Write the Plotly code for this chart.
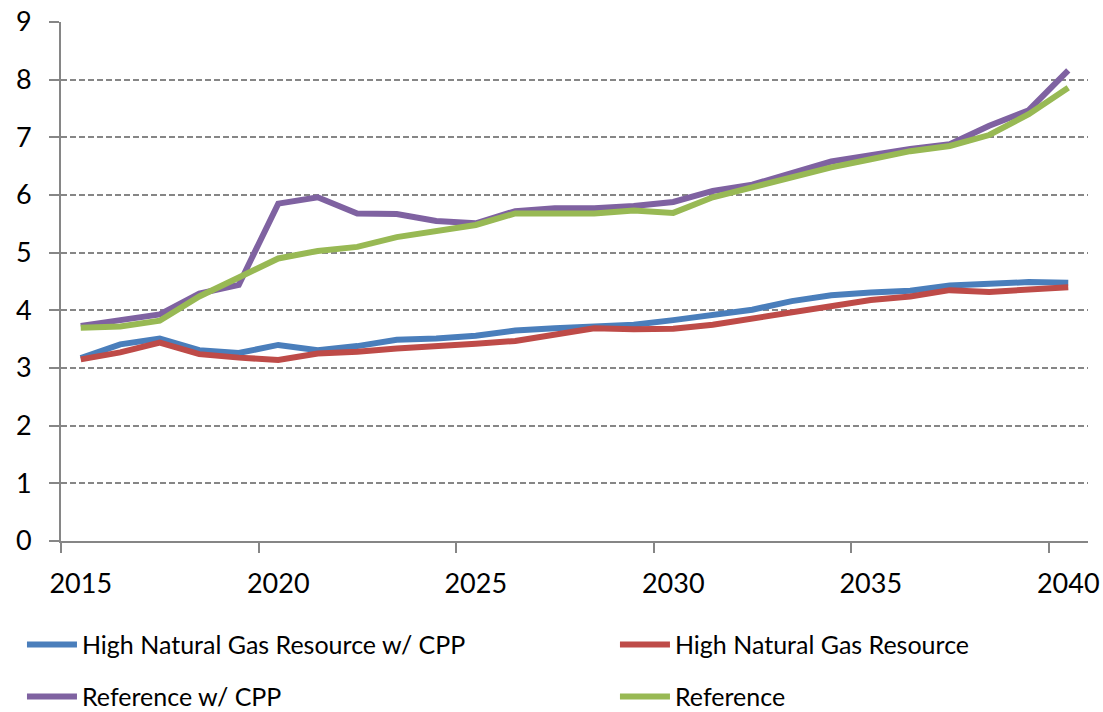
import plotly.graph_objects as go

years = [str(y) for y in range(2015, 2041)]

hng_cpp = [3.17, 3.41, 3.51, 3.31, 3.26, 3.40, 3.31, 3.38, 3.49, 3.51, 3.56, 3.65, 3.69,
           3.73, 3.75, 3.83, 3.93, 4.01, 4.16, 4.26, 4.31, 4.34, 4.43, 4.47, 4.49, 4.48]
hng = [3.15, 3.27, 3.44, 3.24, 3.18, 3.14, 3.25, 3.28, 3.34, 3.37, 3.42, 3.47, 3.57,
       3.69, 3.67, 3.68, 3.75, 3.86, 3.98, 4.08, 4.18, 4.24, 4.35, 4.32, 4.36, 4.40]
ref_cpp = [3.73, 3.84, 3.93, 4.29, 4.44, 5.85, 5.96, 5.68, 5.67, 5.55, 5.51, 5.72, 5.77,
           5.77, 5.81, 5.88, 6.07, 6.18, 6.38, 6.58, 6.69, 6.80, 6.88, 7.20, 7.47, 8.16]
ref = [3.70, 3.72, 3.82, 4.24, 4.57, 4.90, 5.03, 5.10, 5.27, 5.38, 5.48, 5.68, 5.68,
       5.68, 5.73, 5.69, 5.96, 6.14, 6.32, 6.48, 6.62, 6.76, 6.85, 7.04, 7.40, 7.86]

series = [
    ("High Natural Gas Resource w/ CPP", hng_cpp, "#4A7EBB", "legend", -0.038, -0.2),
    ("High Natural Gas Resource", hng, "#BE4B48", "legend2", 0.5394, -0.2),
    ("Reference w/ CPP", ref_cpp, "#7F62A1", "legend3", -0.038, -0.3),
    ("Reference", ref, "#98B954", "legend4", 0.5394, -0.3),
]

FONT = "Lato, 'Noto Sans', sans-serif"
GRID = "#868686"

fig = go.Figure()
legends = {}
for name, vals, color, lg, lx, ly in series:
    fig.add_trace(go.Scatter(x=years, y=vals, name=name, mode="lines",
                             line=dict(color=color, width=6),
                             legend=lg))
    legends[lg] = dict(orientation="h", xref="paper", yref="paper", xanchor="left",
                       yanchor="middle", x=lx, y=ly,
                       font=dict(family=FONT, size=25, color="black"),
                       itemwidth=50, bgcolor="rgba(0,0,0,0)")

fig.update_layout(
    width=1103, height=712,
    margin=dict(l=61, r=15, t=22, b=171, autoexpand=False),
    paper_bgcolor="white", plot_bgcolor="white",
    font=dict(family=FONT, size=27, color="black"),
    showlegend=True,
    **legends,
    xaxis=dict(type="category", tickmode="linear", tick0=0, dtick=5,
               tickson="boundaries", ticks="outside", ticklen=10, tickwidth=1.5,
               tickcolor=GRID, showline=True, linecolor=GRID, linewidth=2,
               showgrid=False, range=[-0.5, 25.5], ticklabelstandoff=18,
               tickangle=0, automargin=False,
               tickfont=dict(family=FONT, size=27, color="black")),
    yaxis=dict(range=[0, 9], dtick=1, tick0=0, ticks="outside", ticklen=10,
               tickwidth=1.5, tickcolor=GRID, showline=True, linecolor=GRID,
               linewidth=2, showgrid=True, gridcolor=GRID, gridwidth=2,
               griddash="6px,3px", zeroline=False, ticklabelstandoff=12,
               automargin=False,
               tickfont=dict(family=FONT, size=27, color="black")),
)

fig.write_html("out.html", config={"displayModeBar": False},
               post_script="document.body.style.margin='0';document.body.style.overflow='hidden';")
